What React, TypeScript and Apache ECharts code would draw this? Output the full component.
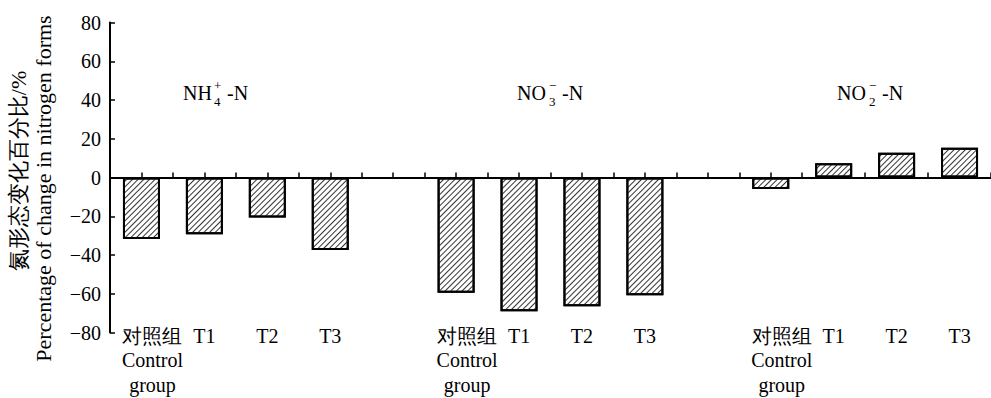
import React, { useEffect, useRef } from "react";
import * as echarts from "echarts";

// ---- data ----
const treatments = ["对照组\nControl\ngroup", "T1", "T2", "T3"];
const nh4Values = [-31.7, -29.3, -20.7, -37.4];
const no3Values = [-59.5, -69.0, -66.5, -60.8];
const no2Values = [-5.9, 7.3, 12.8, 15.4];
const ionBase = ["NH", "NO", "NO"];
const ionSup = ["+", "−", "−"];
const ionSub = ["4", "3", "2"];
const yTicks = [-80, -60, -40, -20, 0, 20, 40, 60, 80];
const yTitleZh = "氮形态变化百分比/%";
const yTitleEn = "Percentage of change in nitrogen forms";

const FONT = "Liberation Serif";

export default function App() {
  const ref = useRef<HTMLDivElement>(null);
  useEffect(() => {
    if (!ref.current) return;
    const chart = echarts.init(ref.current, undefined, { renderer: "svg" });

    const groups = [nh4Values, no3Values, no2Values];
    const categories: string[] = [];
    const values: (number | null)[] = [];
    groups.forEach((g, gi) => {
      treatments.forEach((t, ti) => {
        categories.push(t);
        values.push(g[ti]);
      });
      if (gi < groups.length - 1) {
        categories.push(gi === 0 ? " " : "  ");
        values.push(null);
      }
    });

    const ionPos = [
      { x: 183, sx: 214, nx: 227 },
      { x: 517, sx: 549, nx: 562 },
      { x: 837, sx: 869, nx: 882 },
    ];
    const txt = (text: string, x: number, y: number, size: number) => ({
      type: "text",
      x,
      y,
      style: { text, fontFamily: FONT, fontSize: size, fill: "#000", align: "left", verticalAlign: "middle" },
    });
    const ionGraphics: any[] = [];
    ionBase.forEach((b, i) => {
      const p = ionPos[i];
      ionGraphics.push(
        txt(b, p.x, 93, 20),
        txt(ionSup[i], p.sx, 85, 13),
        txt(ionSub[i], p.sx, 101, 13),
        txt("-N", p.nx, 93, 20)
      );
    });

    const baseX = {
      type: "category",
      data: categories,
      position: "bottom",
      boundaryGap: true,
    };

    chart.setOption({
      animation: false,
      textStyle: { fontFamily: FONT },
      grid: { left: 110, right: -5, top: 22.5, bottom: 65.5, containLabel: false },
      xAxis: [
        {
          ...baseX,
          axisLine: { show: true, onZero: true, onZeroAxisIndex: 0, lineStyle: { color: "#000", width: 2 } },
          axisTick: { show: true, inside: true, length: 5, interval: 0, lineStyle: { color: "#000", width: 1.5 } },
          axisLabel: { show: false },
        },
        {
          ...baseX,
          axisLine: { show: true, onZero: true, onZeroAxisIndex: 0, lineStyle: { color: "#000", width: 2 } },
          axisTick: { show: true, inside: true, length: 5, interval: 0, alignWithLabel: true, lineStyle: { color: "#000", width: 1.5 } },
          axisLabel: { show: false },
        },
        {
          ...baseX,
          axisLine: { show: false, onZero: false },
          axisTick: { show: false },
          axisLabel: {
            show: true,
            interval: 0,
            margin: -9,
            fontFamily: FONT,
            fontSize: 20,
            lineHeight: 24.5,
            color: "#000",
            verticalAlign: "top",
            formatter: (v: string) =>
              v.indexOf("\n") >= 0
                ? v.split("\n").map((s) => `{c|${s}}`).join("\n")
                : v,
            rich: {
              c: { fontFamily: FONT, fontSize: 20, lineHeight: 24.5, color: "#000", padding: [0, 0, 0, 22] },
            },
          },
        },
      ],
      yAxis: {
        type: "value",
        min: yTicks[0],
        max: yTicks[yTicks.length - 1],
        interval: yTicks[1] - yTicks[0],
        splitLine: { show: false },
        axisLine: { show: true, lineStyle: { color: "#000", width: 2 } },
        axisTick: { show: true, inside: true, length: 5, lineStyle: { color: "#000", width: 1.5 } },
        axisLabel: {
          fontFamily: FONT,
          fontSize: 20,
          color: "#000",
          margin: 9,
          formatter: (v: number) => (v < 0 ? "−" + Math.abs(v) : String(v)),
        },
      },
      series: [
        {
          type: "bar",
          xAxisIndex: 0,
          data: values,
          barWidth: 37,
          itemStyle: {
            color: "#fff",
            borderColor: "#000",
            borderWidth: 2,
            decal: {
              symbol: "rect",
              symbolSize: 1,
              dashArrayX: [1, 0],
              dashArrayY: [1, 2.6],
              rotation: -Math.PI / 4,
              color: "#333",
              backgroundColor: "#fff",
            },
          },
        },
      ],
      graphic: [
        {
          type: "text",
          x: 18,
          y: 171,
          rotation: Math.PI / 2,
          style: { text: yTitleZh, fontFamily: FONT, fontSize: 22, fill: "#000", align: "center", verticalAlign: "middle" },
        },
        {
          type: "text",
          x: 43,
          y: 188.5,
          rotation: Math.PI / 2,
          style: { text: yTitleEn, fontFamily: FONT, fontSize: 22, fill: "#000", align: "center", verticalAlign: "middle" },
        },
        ...ionGraphics,
      ],
    });
    return () => chart.dispose();
  }, []);
  return (
    <div
      ref={ref}
      style={{ position: "fixed", left: 0, top: 0, width: 991, height: 398, background: "#fff" }}
    />
  );
}
